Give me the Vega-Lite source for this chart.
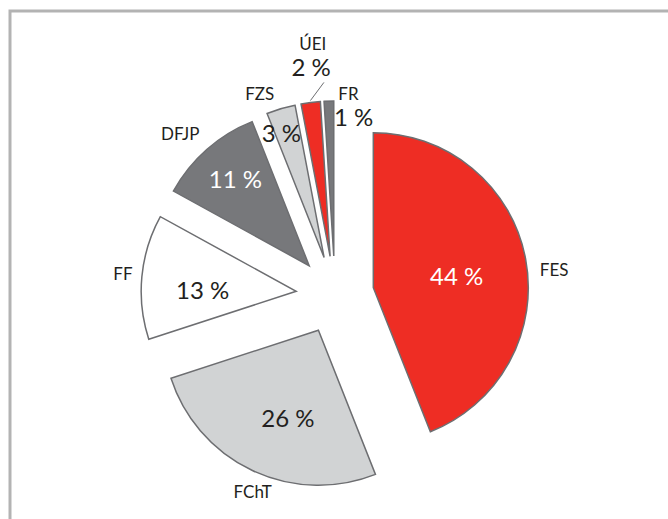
{
  "$schema": "https://vega.github.io/schema/vega-lite/v6.json",
  "width": 661,
  "height": 511,
  "autosize": {"type": "none"},
  "padding": {"left": 10, "top": 11, "right": -3, "bottom": -3},
  "background": "white",
  "config": {
    "view": {"stroke": "#b3b3b3", "strokeWidth": 3},
    "text": {"font": "Lato", "align": "center", "baseline": "middle"}
  },
  "data": {
    "values": [
      {"fac": "FES", "pct": 44},
      {"fac": "FChT", "pct": 26},
      {"fac": "FF", "pct": 13},
      {"fac": "DFJP", "pct": 11},
      {"fac": "FZS", "pct": 3},
      {"fac": "ÚEI", "pct": 2},
      {"fac": "FR", "pct": 1}
    ]
  },
  "transform": [
    {"window": [{"op": "sum", "field": "pct", "as": "end"}], "frame": [null, 0]},
    {"calculate": "datum.end - datum.pct", "as": "start"},
    {"calculate": "datum.end - datum.pct / 2", "as": "mid"},
    {"calculate": "sin(2 * PI * datum.mid / 100)", "as": "ex"},
    {"calculate": "cos(2 * PI * datum.mid / 100)", "as": "ey"},
    {"calculate": "datum.pct + ' %'", "as": "lab"},
    {"calculate": "datum.ex + (157 / 39) * sin(2 * PI * datum.mid / 100)", "as": "lx1"},
    {"calculate": "datum.ey + (157 / 39) * cos(2 * PI * datum.mid / 100)", "as": "ly1"},
    {"calculate": "datum.ex + (174 / 39) * sin(2 * PI * datum.mid / 100 + 0.09)", "as": "lx2"},
    {"calculate": "datum.ey + (174 / 39) * cos(2 * PI * datum.mid / 100 + 0.09)", "as": "ly2"}
  ],
  "encoding": {
    "x": {"field": "ex", "type": "quantitative", "scale": {"domain": [-8.3333, 8.6154], "nice": false, "zero": false}, "axis": null},
    "y": {"field": "ey", "type": "quantitative", "scale": {"domain": [-5.8205, 7.2821], "nice": false, "zero": false}, "axis": null},
    "theta": {"field": "mid", "type": "quantitative", "scale": {"domain": [0, 100]}, "stack": null}
  },
  "layer": [
    {
      "mark": {"type": "arc", "radius": 155, "stroke": "#6d6e71", "strokeWidth": 1.5},
      "encoding": {
        "theta": {"field": "start", "type": "quantitative", "scale": {"domain": [0, 100]}, "stack": null},
        "theta2": {"field": "end"},
        "fill": {
          "field": "fac",
          "type": "nominal",
          "scale": {
            "domain": ["FES", "FChT", "FF", "DFJP", "FZS", "ÚEI", "FR"],
            "range": ["#ee2d24", "#d1d3d4", "#ffffff", "#77787b", "#d1d3d4", "#ee2d24", "#77787b"]
          },
          "legend": null
        }
      }
    },
    {
      "transform": [{"filter": "datum.fac === 'ÚEI'"}],
      "mark": {"type": "rule", "stroke": "#6d6e71", "strokeWidth": 1},
      "encoding": {
        "theta": null,
        "x": {"field": "lx1", "type": "quantitative"},
        "y": {"field": "ly1", "type": "quantitative"},
        "x2": {"field": "lx2"},
        "y2": {"field": "ly2"}
      }
    },
    {
      "transform": [{"filter": "datum.fac === 'FES'"}],
      "mark": {"type": "text", "radius": 95, "dx": -10, "dy": 8, "fontSize": 24, "color": "#ffffff"},
      "encoding": {"text": {"field": "lab"}}
    },
    {
      "transform": [{"filter": "datum.fac === 'FES'"}],
      "mark": {"type": "text", "radius": 180, "dx": 4, "dy": 17, "fontSize": 17, "color": "#231f20"},
      "encoding": {"text": {"field": "fac"}}
    },
    {
      "transform": [{"filter": "datum.fac === 'FChT'"}],
      "mark": {"type": "text", "radius": 95, "dx": 10, "dy": 4, "fontSize": 24, "color": "#231f20"},
      "encoding": {"text": {"field": "lab"}}
    },
    {
      "transform": [{"filter": "datum.fac === 'FChT'"}],
      "mark": {"type": "text", "radius": 180, "dx": 11, "dy": 0, "fontSize": 17, "color": "#231f20"},
      "encoding": {"text": {"field": "fac"}}
    },
    {
      "transform": [{"filter": "datum.fac === 'FF'"}],
      "mark": {"type": "text", "radius": 95, "dx": 1, "dy": 10, "fontSize": 24, "color": "#231f20"},
      "encoding": {"text": {"field": "lab"}}
    },
    {
      "transform": [{"filter": "datum.fac === 'FF'"}],
      "mark": {"type": "text", "radius": 180, "dx": 6, "dy": 1, "fontSize": 17, "color": "#231f20"},
      "encoding": {"text": {"field": "fac"}}
    },
    {
      "transform": [{"filter": "datum.fac === 'DFJP'"}],
      "mark": {"type": "text", "radius": 95, "dx": -11, "dy": -13, "fontSize": 24, "color": "#ffffff"},
      "encoding": {"text": {"field": "lab"}}
    },
    {
      "transform": [{"filter": "datum.fac === 'DFJP'"}],
      "mark": {"type": "text", "radius": 180, "dx": -10, "dy": 4, "fontSize": 17, "color": "#231f20"},
      "encoding": {"text": {"field": "fac"}}
    },
    {
      "transform": [{"filter": "datum.fac === 'FZS'"}],
      "mark": {"type": "text", "radius": 170, "dx": -17, "dy": 1, "fontSize": 17, "color": "#231f20"},
      "encoding": {"text": {"field": "fac"}}
    },
    {
      "transform": [{"filter": "datum.fac === 'FZS'"}],
      "mark": {"type": "text", "radius": 135, "dx": -5, "dy": 7, "fontSize": 24, "color": "#231f20"},
      "encoding": {"text": {"field": "lab"}}
    },
    {
      "transform": [{"filter": "datum.fac === 'ÚEI'"}],
      "mark": {"type": "text", "radius": 170, "dx": 4, "dy": -43, "fontSize": 17, "color": "#231f20"},
      "encoding": {"text": {"field": "fac"}}
    },
    {
      "transform": [{"filter": "datum.fac === 'ÚEI'"}],
      "mark": {"type": "text", "radius": 135, "dx": -2, "dy": -53, "fontSize": 24, "color": "#231f20"},
      "encoding": {"text": {"field": "lab"}}
    },
    {
      "transform": [{"filter": "datum.fac === 'FR'"}],
      "mark": {"type": "text", "radius": 170, "dx": 20, "dy": 9, "fontSize": 17, "color": "#231f20"},
      "encoding": {"text": {"field": "fac"}}
    },
    {
      "transform": [{"filter": "datum.fac === 'FR'"}],
      "mark": {"type": "text", "radius": 135, "dx": 24, "dy": -2, "fontSize": 24, "color": "#231f20"},
      "encoding": {"text": {"field": "lab"}}
    }
  ]
}
